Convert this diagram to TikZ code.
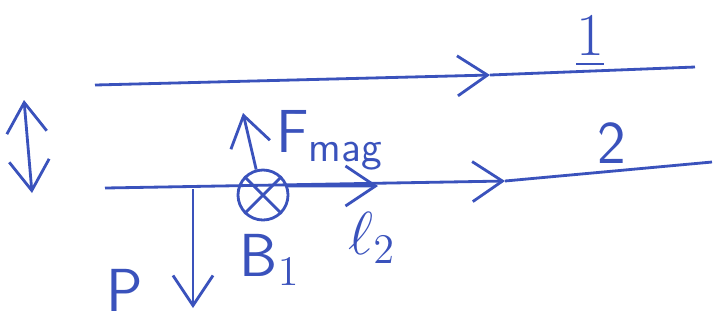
\documentclass[tikz,border=0pt]{standalone}
\usepackage{xcolor}
\usepackage{amsmath}
\usetikzlibrary{arrows.meta, positioning}
\definecolor{ink}{RGB}{58,82,188}

\begin{document}
\begin{tikzpicture}[
  x=0.01cm, y=-0.01cm,
  wire/.style={draw=ink, thick},
  vec/.style={-{Straight Barb[length=3mm, width=4mm]}, thick, color=ink},
  dvec/.style={{Straight Barb[length=3mm, width=4mm]}-{Straight Barb[length=3mm, width=4mm]}, thick, color=ink},
  lbl/.style={text=ink, font=\LARGE\sffamily, inner sep=1pt}
]
  \useasboundingbox (0,0) rectangle (715,326);
  % conductor 1
  \coordinate (w1a) at (95,85);
  \coordinate (w1m) at (490,75);
  \coordinate (w1b) at (695,67);
  \draw[vec] (w1a)--(w1m);
  \draw[wire] (w1m)--(w1b);
  \node[lbl] (n1) at (590,42) {$\underline{1}$};
  % conductor 2
  \coordinate (w2a) at (105,188);
  \coordinate (w2m) at (505,181);
  \coordinate (w2b) at (712,162);
  \draw[vec] (w2a)--(w2m);
  \draw[wire] (w2m)--(w2b);
  \node[lbl] (n2) at (612,143) {2};
  % distance
  \coordinate (da) at (24,100);
  \coordinate (db) at (32,193);
  \draw[dvec] (da)--(db);
  % element on conductor 2
  \node[circle, draw=ink, thick, minimum size=0.5cm, inner sep=0pt] (b1) at (263,195) {};
  \draw[ink, thick] (b1.north west)--(b1.south east) (b1.north east)--(b1.south west);
  \coordinate (ftop) at (243,113);
  \draw[vec] (b1.105)--(ftop);
  \node[lbl, anchor=west] (fmag) at (272,140) {F$_{\text{mag}}$};
  \coordinate (ltip) at (378,186);
  \draw[vec] (b1.20)--(ltip);
  \node[lbl] (l2) at (372,238) {$\ell_2$};
  \node[lbl] (bl) at (270,260) {B$_1$};
  % weight
  \coordinate (ptop) at (193,189);
  \coordinate (pbot) at (193,308);
  \draw[vec] (ptop)--(pbot);
  \node[lbl] (p) at (125,290) {P};
\end{tikzpicture}
\end{document}
